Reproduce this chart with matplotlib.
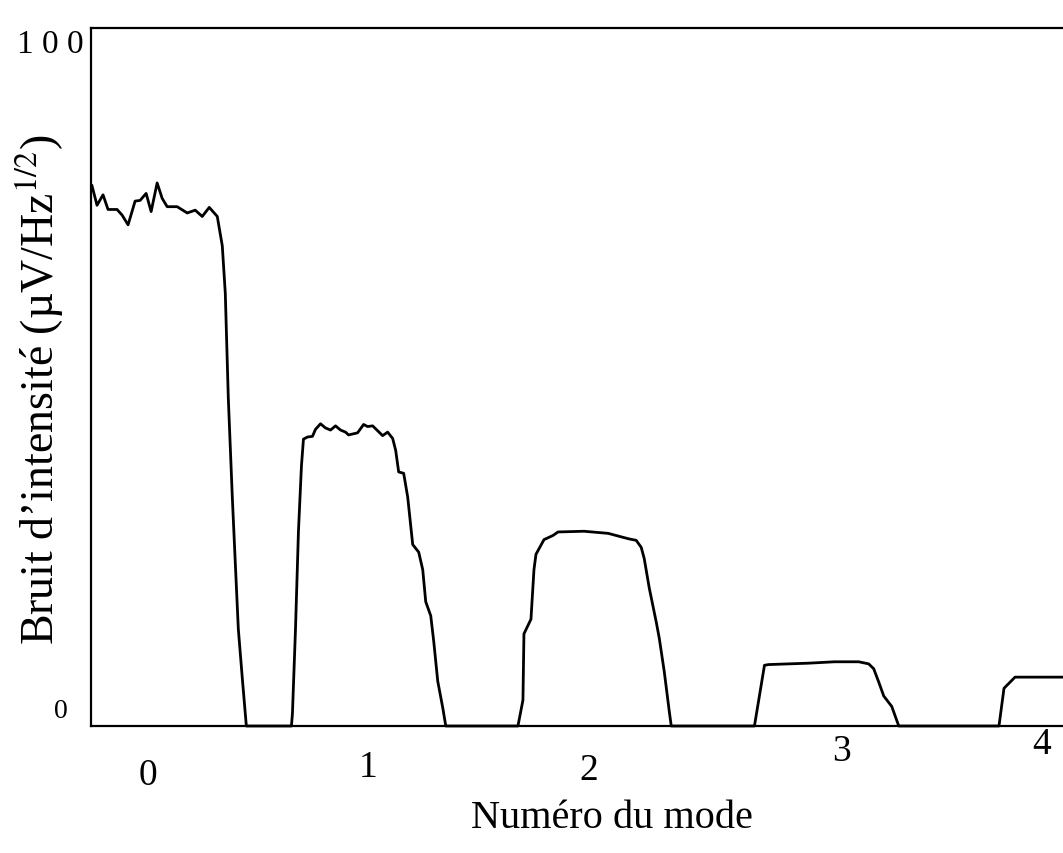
import matplotlib
matplotlib.use("Agg")
import matplotlib.pyplot as plt
from matplotlib.transforms import blended_transform_factory

# ---- data (trace) ----
position = [1, 6, 12, 17, 26, 31, 37, 44, 49, 55, 60, 66, 71, 76, 86, 96, 104, 111, 118, 126,
            131, 134, 137, 141, 144, 147, 151, 155,
            200, 201, 204, 207, 210, 212, 216, 221, 224, 229, 234, 239, 244, 249, 254, 257,
            266, 272, 276, 281, 286, 291, 296, 301, 304, 307, 312, 316, 321, 327, 331, 334,
            339, 342, 346, 351, 354,
            426, 431, 432, 439, 442, 444, 452, 461, 466, 492, 516, 529, 537, 544, 549, 552,
            557, 564, 567, 572, 577, 579,
            662, 672, 676, 716, 729, 742, 766, 776, 781, 786, 791, 799, 806,
            906, 911, 922, 972]
noise = [77.4, 74.6, 76.1, 74.0, 74.0, 73.2, 71.8, 75.2, 75.3, 76.3, 73.7, 77.8, 75.6, 74.4,
         74.4, 73.5, 73.9, 73.0, 74.3, 73.0,
         68.8, 62.0, 47.0, 32.8, 23.3, 13.9, 6.8, 0.0,
         0.0, 1.8, 13.7, 27.9, 37.3, 41.1, 41.4, 41.5, 42.5, 43.3, 42.7, 42.4, 43.0, 42.4, 42.1,
         41.7, 42.0, 43.2, 42.9, 43.0, 42.3, 41.6, 42.1, 41.2, 39.5, 36.4, 36.2, 32.8, 26.0,
         24.9, 22.4, 17.8, 15.8, 12.1, 6.4, 2.6, 0.0,
         0.0, 3.7, 13.2, 15.3, 22.4, 24.6, 26.7, 27.3, 27.8, 27.9, 27.6, 27.1, 26.8, 26.6,
         25.6, 24.0, 19.8, 14.9, 12.6, 7.8, 2.1, 0.0,
         0.0, 8.7, 8.8, 9.0, 9.1, 9.2, 9.2, 8.9, 8.2, 6.3, 4.3, 2.8, 0.0,
         0.0, 5.4, 7.0, 7.0]

mode_tick_pos = [57, 277, 497, 749, 949]
mode_labels = ["0", "1", "2", "3", "4"]
y_tick_labels = ["1 0 0", "0"]

# ---- style ----
plt.rcParams['font.family'] = ['Liberation Serif', 'DejaVu Serif']
plt.rcParams['mathtext.fontset'] = 'stix'

W, H = 1063, 854
fig = plt.figure(figsize=(W / 100, H / 100), dpi=100)
ax = fig.add_axes([91 / W, 1 - 727 / H, 1 - 91 / W + 0.002, (727 - 29) / H])

ax.plot(position, noise, color='black', lw=2.0, clip_on=False, solid_joinstyle='round')
ax.set_xlim(0, 972)
ax.set_ylim(0, 100)

for s in ['left', 'top', 'bottom']:
    ax.spines[s].set_linewidth(1.6)
ax.spines['right'].set_visible(False)
ax.set_xticks([])
ax.set_yticks([])

# x tick labels (scanned figure: slightly uneven vertical placement)
tr = blended_transform_factory(ax.transData, fig.transFigure)
label_y_px = [776, 768, 771, 752, 745]
for p, lab, py in zip(mode_tick_pos, mode_labels, label_y_px):
    ax.text(p, 1 - py / H, lab, transform=tr, ha='center', va='center', fontsize=27)

# y tick labels
fig.text(50 / W, 1 - 45 / H, y_tick_labels[0], ha='center', va='center', fontsize=24)
fig.text(61 / W, 1 - 712 / H, y_tick_labels[1], ha='center', va='center', fontsize=20)

# axis titles
fig.text(612 / W, 1 - 819 / H, "Numéro du mode", ha='center', va='center', fontsize=29)
fig.text(40 / W, 1 - 390 / H, "Bruit d’intensité (µV/Hz$^{1/2}$)", ha='center', va='center',
         rotation=90, fontsize=33)

fig.savefig("out.png", dpi=100, facecolor='white')
